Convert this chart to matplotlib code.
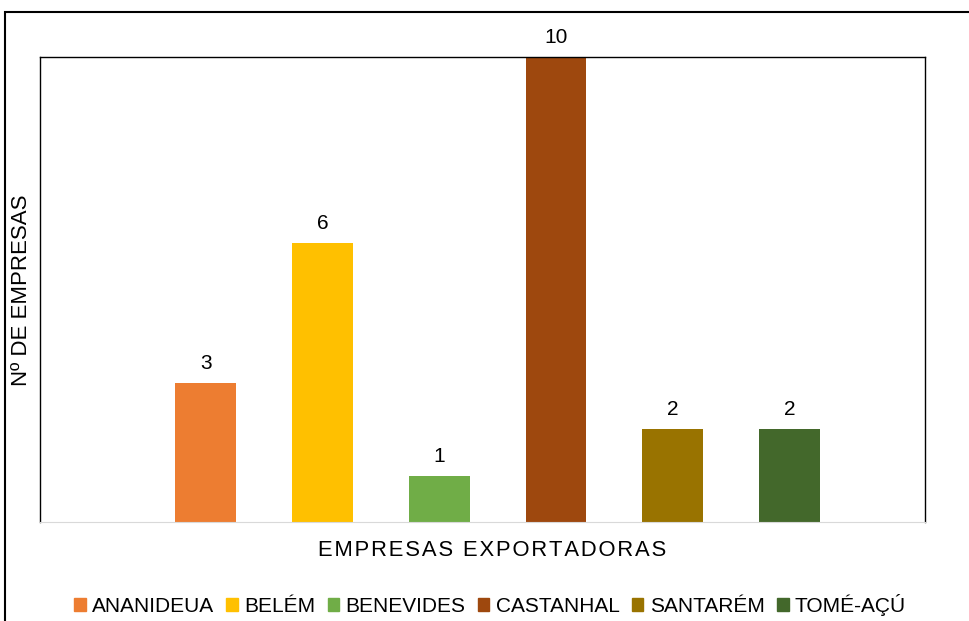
import matplotlib.pyplot as plt
from matplotlib.patches import Rectangle, Patch

cidades = ['ANANIDEUA', 'BELÉM', 'BENEVIDES', 'CASTANHAL', 'SANTARÉM', 'TOMÉ-AÇÚ']
empresas = [3, 6, 1, 10, 2, 2]
cores = ['#ED7D31', '#FFC000', '#70AD47', '#9E480E', '#997300', '#43682B']

plt.rcParams['font.family'] = ['Liberation Sans', 'DejaVu Sans']

fig = plt.figure(figsize=(9.69, 6.21), dpi=100)
ax = fig.add_axes([40 / 969, 1 - 522 / 621, 885 / 969, 465 / 621])

x = list(range(len(cidades)))
bars = ax.bar(x, empresas, width=0.52, color=cores)
for b, v in zip(bars, empresas):
    ax.annotate(str(v), (b.get_x() + b.get_width() / 2, v), xytext=(0, 7),
                textcoords='offset points', ha='center', va='bottom',
                fontsize=15, annotation_clip=False)

ax.set_xlim(-1.42, 6.16)
ax.set_ylim(0, 10)
ax.set_xticks([])
ax.set_yticks([])
for s in ['left', 'top', 'right']:
    ax.spines[s].set_color('black')
    ax.spines[s].set_linewidth(1)
ax.spines['bottom'].set_color('#D9D9D9')

titulo_x = '\u200a'.join('EMPRESAS EXPORTADORAS')
fig.text(492 / 969, 1 - 550 / 621, titulo_x, ha='center', va='center', fontsize=15.8)
fig.text(22 / 969, 1 - 290 / 621, 'Nº DE EMPRESAS', rotation=90,
         ha='center', va='center', fontsize=16)

handles = [Patch(color=c) for c in cores]
fig.legend(handles, cidades, loc='center', bbox_to_anchor=(490 / 969, 1 - 605 / 621),
           ncol=6, frameon=False, fontsize=15, handlelength=0.55, handleheight=0.55,
           handletextpad=0.3, columnspacing=0.6)

fig.patches.append(Rectangle((5 / 969, -0.1), 1.2, (621 - 12) / 621 + 0.1,
                             transform=fig.transFigure, fill=False,
                             edgecolor='black', linewidth=1.5))

fig.savefig('out.png', dpi=100)
